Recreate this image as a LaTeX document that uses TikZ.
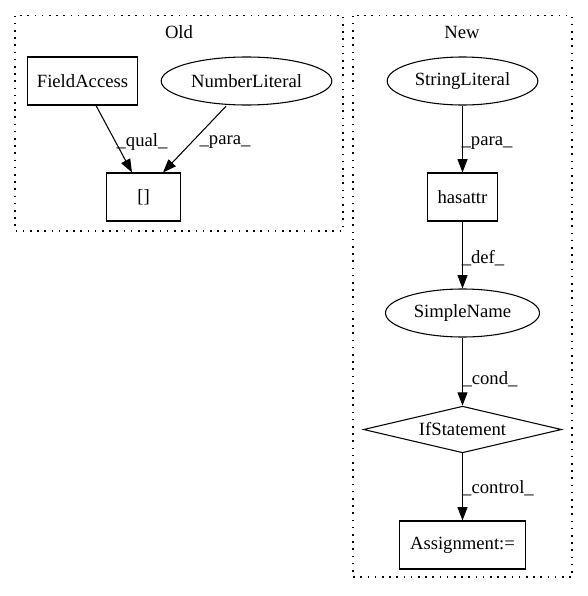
\documentclass[tikz,border=0pt]{standalone}
\usepackage{fontspec}
\setmainfont{Liberation Serif}
\usetikzlibrary{shapes.geometric,arrows.meta,calc}
\begin{document}
\begin{tikzpicture}[x=0.75pt,y=-0.75pt,
  every node/.style={font=\fontsize{14pt}{16pt}\selectfont},
  box/.style={draw,line width=0.8pt,rectangle,minimum height=36pt,inner sep=0pt},
  ell/.style={draw,line width=0.8pt,ellipse,minimum height=36pt,inner sep=0pt},
  dia/.style={draw,line width=0.8pt,diamond,aspect=4.2,minimum width=148.5pt,minimum height=35pt,inner sep=0pt},
  edge/.style={draw,line width=0.8pt,-{Triangle[length=10pt,width=7.5pt]}},
  lab/.style={inner sep=0pt},
  cluster/.style={draw,line width=0.8pt,dash pattern=on 1.2pt off 4.2pt},
  title/.style={inner sep=0pt}]
\useasboundingbox (0,0) rectangle (588,596);
\draw[cluster] (15,15.6) rectangle (343,231);
\draw[cluster] (353,15.6) rectangle (572,577);
\node[title] (told) at (179,32) {Old};
\node[title] (tnew) at (462,32) {New};
% Old
\node[box,minimum width=83pt] (fa) at (82.5,81) {FieldAccess};
\node[ell,minimum width=128pt] (nl) at (246.5,81) {NumberLiteral};
\node[box,minimum width=55pt] (br) at (143.5,197) {[]};
\draw[edge] ($(fa.south)+(13.5,0)$) -- ($(br.north)+(-11.5,0)$);
\draw[edge] ($(nl.south)+(-20.5,0.7)$) -- ($(br.north)+(19.5,0)$);
\node[lab] (l1) at (142,142) {\_qual\_};
\node[lab] (l2) at (225,142) {\_para\_};
% New
\node[ell,minimum width=113pt] (sl) at (462.5,81) {StringLiteral};
\node[box,minimum width=53pt] (ha) at (462.5,197) {hasattr};
\node[ell,minimum width=115.5pt] (sn) at (462.5,313) {SimpleName};
\node[dia] (if) at (462.5,429.5) {IfStatement};
\node[box,minimum width=94.5pt] (as) at (462.5,545) {Assignment:=};
\draw[edge] (sl) -- (ha);
\draw[edge] (ha) -- (sn);
\draw[edge] (sn) -- (if);
\draw[edge] (if) -- (as);
\node[lab] (l3) at (487,143) {\_para\_};
\node[lab] (l4) at (483,258) {\_def\_};
\node[lab] (l5) at (490,379) {\_cond\_};
\node[lab] (l6) at (498,488) {\_control\_};
\end{tikzpicture}
\end{document}
